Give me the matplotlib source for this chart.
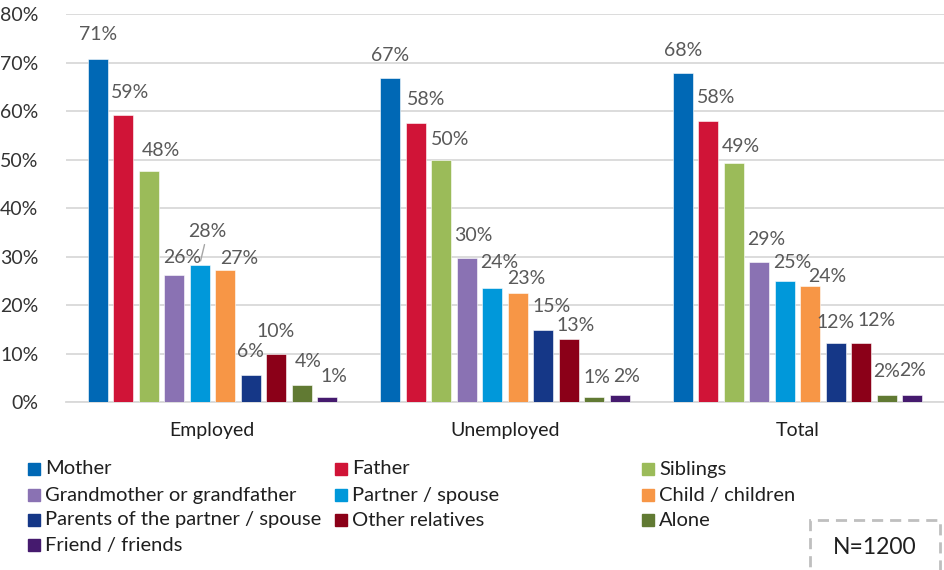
import matplotlib
matplotlib.use("Agg")
import matplotlib.pyplot as plt
import numpy as np
from matplotlib.patches import Rectangle

# ---- data (percent) ----
groups = ["Employed", "Unemployed", "Total"]
series = [
    "Mother", "Father", "Siblings", "Grandmother or grandfather", "Partner / spouse",
    "Child / children", "Parents of the partner / spouse", "Other relatives", "Alone",
    "Friend / friends",
]
employed = [70.8, 59.1, 47.6, 26.3, 28.3, 27.2, 5.6, 9.9, 3.6, 1.1]
unemployed = [66.8, 57.6, 49.9, 29.8, 23.6, 22.6, 14.8, 13.1, 1.0, 1.6]
total = [67.8, 58.0, 49.2, 28.9, 24.9, 23.9, 12.2, 12.3, 1.6, 1.5]
y_ticks = [0, 10, 20, 30, 40, 50, 60, 70, 80]
sample_note = "N=1200"

colors = ["#0068B5", "#D01437", "#9BBB59", "#8A72B3", "#0098DA",
          "#F79646", "#153787", "#8B0018", "#617A33", "#451A6E"]

# label nudges in pixels (dx right, dy above bar top), one row per group
label_dx = [[0, 7, 12, 8, 8, 14, 0, 0, 7, 7],
            [0, 10, 9, 7, 7, 9, 8, 7, 3, 7],
            [0, 8, 7, 7, 7, 17, 0, 15, 0, 0]]
label_dy = [[24, 23, 21, 17, 33, 12, 24, 23, 23, 20],
            [23, 23, 21, 22, 25, 14, 24, 13, 20, 18],
            [23, 23, 17, 23, 19, 10, 21, 22, 23, 25]]

plt.rcParams["font.family"] = ["Lato", "DejaVu Sans"]

W, H = 944, 570
fig = plt.figure(figsize=(W / 100, H / 100), dpi=100)
ax = fig.add_axes([66 / W, 1 - 402.3 / H, (W - 66) / W, (402.3 - 14) / H])

values = np.array([employed, unemployed, total])
x = np.arange(len(groups))
slot = 25.5 / 292.8
width = 20 / 292.8

for i, name in enumerate(series):
    pos = x + (i - 4.5) * slot
    vals = values[:, i]
    ax.bar(pos, vals, width=width, color=colors[i], edgecolor="white",
           linewidth=0.4, label=name, zorder=3)
    for g in range(len(groups)):
        kw = {}
        if g == 0 and i == 4:
            kw["arrowprops"] = dict(arrowstyle="-", color="#A6A6A6", lw=1,
                                    shrinkA=1, shrinkB=3)
        ax.annotate(f"{vals[g]:.0f}%", xy=(pos[g], vals[g]),
                    xytext=(label_dx[g][i], label_dy[g][i]),
                    textcoords="offset pixels", ha="center", va="center",
                    fontsize=14, color="#595959", zorder=4, **kw)

ax.set_xlim(-0.5, 2.5)
ax.set_ylim(0, 80)
ax.set_yticks(y_ticks)
ax.set_yticklabels([f"{t}%" for t in y_ticks], fontsize=14, color="#333333")
ax.set_xticks(x)
ax.set_xticklabels(groups, fontsize=14, color="#1F1F1F")
ax.tick_params(axis="both", length=0)
ax.tick_params(axis="y", pad=20)
ax.tick_params(axis="x", pad=14)
ax.grid(axis="y", color="#D9D9D9", linewidth=1.3, zorder=0)
for s in ["top", "right", "left"]:
    ax.spines[s].set_visible(False)
ax.spines["bottom"].set_color("#D9D9D9")
ax.spines["bottom"].set_linewidth(1.3)

# legend laid out like the source: 3 evenly spaced columns
col_x = [28, 335, 642]
row_y = [469, 495, 520, 545]
for i, name in enumerate(series):
    cx = col_x[i % 3]
    cy = row_y[i // 3]
    fig.add_artist(Rectangle((cx / W, 1 - (cy + 6) / H), 12 / W, 12 / H,
                             transform=fig.transFigure, color=colors[i]))
    fig.text((cx + 17) / W, 1 - cy / H, name, ha="left", va="center",
             fontsize=14.5, color="#1F1F1F")

# sample size box
fig.add_artist(Rectangle((810 / W, 1 - 580 / H), 130 / W, 60 / H,
                         transform=fig.transFigure, fill=False,
                         edgecolor="#BFBFBF", linewidth=2,
                         linestyle=(0, (4, 2.5)), clip_on=False))
fig.text(875 / W, 1 - 548 / H, sample_note, ha="center", va="center",
         fontsize=16.5, color="#1F1F1F")

fig.savefig("out.png", dpi=100)
